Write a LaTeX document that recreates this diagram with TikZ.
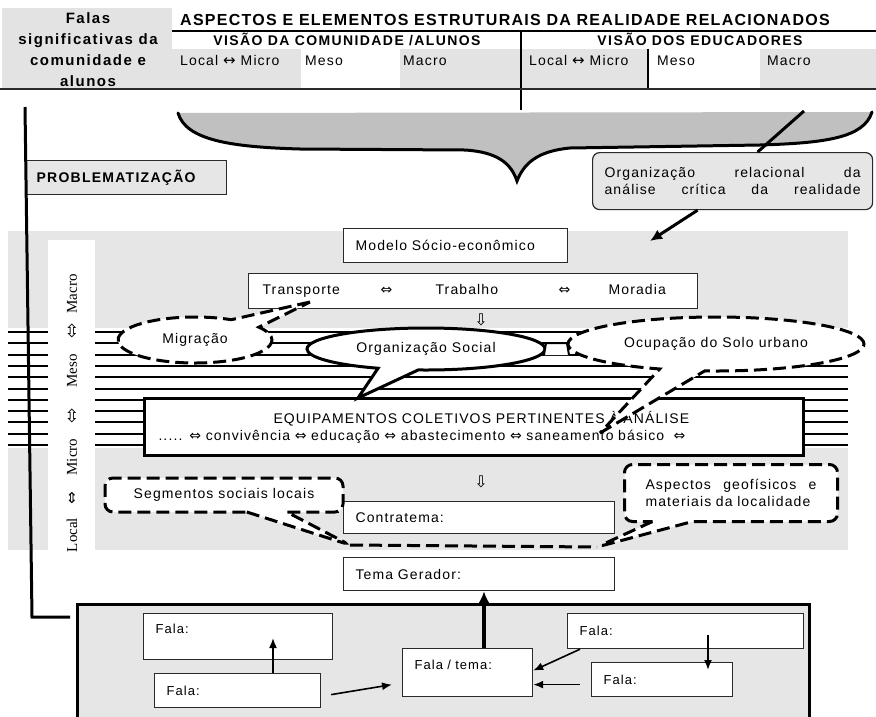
\documentclass[tikz,border=0pt]{standalone}
\usepackage{fontspec}
\setmainfont{Liberation Sans}[LetterSpace=8]
\newfontfamily\tms{Liberation Serif}
\newfontfamily\sym{DejaVu Sans}
\usetikzlibrary{shapes.callouts,arrows.meta,calc}
\definecolor{lg}{HTML}{E6E6E6}
\definecolor{hg}{HTML}{E3E3E3}
\definecolor{bg}{HTML}{C0C0C0}
\definecolor{ln}{HTML}{2A2A2A}
\newcommand\dblarr{{\sym\fontsize{14}{14}\selectfont ⇔}}
\tikzset{
  thinbox/.style={draw=ln, line width=1.2pt, fill=white, anchor=north west, inner xsep=12pt, inner ysep=0pt, align=left},
  thickbox/.style={draw=black, line width=3pt, fill=white, anchor=north west, inner xsep=14pt, inner ysep=0pt, align=left},
  dsh/.style={dash pattern=on 13pt off 6pt, line width=3pt},
  hln/.style={line width=2pt},
  arr/.style={-{Latex[length=10pt,width=8pt]}, line width=1.6pt},
  hdr/.style={anchor=base west, inner sep=0pt},
  vlab/.style={rotate=90, inner sep=0pt, font=\tms\fontsize{15}{17}\selectfont},
  fsmall/.style={font=\fontsize{13}{16}\selectfont}
}
\begin{document}
\begin{tikzpicture}[x=1pt,y=-1pt,font=\fontsize{14}{17}\selectfont]
\useasboundingbox (0,0) rectangle (876,716);
% ---------------- header
\fill[hg] (2,8) rectangle (172,88);
\fill[hg] (172,49) rectangle (301,88);
\fill[hg] (400,49) rectangle (521,88);
\fill[hg] (521,49) rectangle (648,88);
\fill[hg] (760,49) rectangle (876,88);
\draw[line width=1.5pt] (172,31) -- (876,31);
\draw[line width=1.3pt] (521,31) -- (521,110);
\draw[line width=1.3pt] (648,49) -- (648,89);
\draw[line width=2pt, draw=ln] (0,89) -- (876,89);
\node[align=center, inner sep=0pt, font=\bfseries\fontsize{15}{21}\selectfont\addfontfeatures{LetterSpace=10}] (falas) at (88,50) {Falas\\significativas da\\comunidade e\\alunos};
\node[hdr, font=\bfseries\fontsize{16}{19}\selectfont\addfontfeatures{LetterSpace=8}] (title) at (180,25) {ASPECTOS E ELEMENTOS ESTRUTURAIS DA REALIDADE RELACIONADOS};
\node[anchor=base, inner sep=0pt, font=\bfseries\fontsize{14}{17}\selectfont\addfontfeatures{LetterSpace=10}] (vca) at (347,45) {VISÃO DA COMUNIDADE /ALUNOS};
\node[anchor=base, inner sep=0pt, font=\bfseries\fontsize{14}{17}\selectfont\addfontfeatures{LetterSpace=10}] (vde) at (700,45) {VISÃO DOS EDUCADORES};
\node[hdr] (c1) at (180,65) {Local {\sym\fontsize{15}{15}\selectfont ↔} Micro};
\node[hdr] (c2) at (305,65) {Meso};
\node[hdr] (c3) at (403,65) {Macro};
\node[hdr] (c4) at (529,65) {Local {\sym\fontsize{15}{15}\selectfont ↔} Micro};
\node[hdr] (c5) at (657,65) {Meso};
\node[hdr] (c6) at (767,65) {Macro};
% ---------------- brace
\fill[bg] (178,113) .. controls (186,140) and (230,147) .. (300,149) -- (465,150) .. controls (497,152) and (511,163) .. (517,181) .. controls (524,163) and (538,151) .. (570,148) -- (760,145) .. controls (825,143) and (864,138) .. (872,112) -- cycle;
\draw[line width=3pt, line cap=round] (178,113) .. controls (186,140) and (230,147) .. (300,149) -- (465,150) .. controls (497,152) and (511,163) .. (517,181) .. controls (524,163) and (538,151) .. (570,148) -- (760,145) .. controls (825,143) and (864,138) .. (872,112);
% ---------------- problematizacao
\node[draw=ln, line width=1.2pt, fill=lg, anchor=north west, minimum width=200, minimum height=34, inner xsep=10pt, font=\bfseries\fontsize{14}{17}\selectfont\addfontfeatures{LetterSpace=9}, align=left, text width=180] (prob) at (26,160) {PROBLEMATIZAÇÃO};
% ---------------- callout relacional
\node[draw=ln, line width=1.2pt, fill=lg, rounded corners=7pt, anchor=north west, minimum height=57, inner xsep=12pt, text width=256, align=left] (rel) at (592,152) {\hbox to 256pt{Organização\hfill relacional\hfill da}\\\hbox to 256pt{análise\hfill crítica\hfill da\hfill realidade}};
\coordinate (bracept) at (804,111);
\draw[line width=3pt] (bracept) -- ([xshift=25pt]rel.north);
% ---------------- panels
\fill[lg] (8,231) rectangle (848,328);
\fill[lg] (8,448) rectangle (848,550);
\fill[white] (48,240) rectangle (95,550);
\foreach \i in {0,...,10} {
  \draw[hln] (8,332+\i*11.3) -- (48,332+\i*11.3);
  \draw[hln] (95,332+\i*11.3) -- (848,332+\i*11.3);
}
\coordinate (relend) at (650,241);
\draw[line width=3pt, -{Latex[length=12pt,width=11pt]}] ([xshift=-35pt]rel.south) -- (relend);
% vertical labels
\node[vlab] (vmac) at (72,294) {Macro};
\node[inner sep=0pt] (va1) at (72,331) {\sym\fontsize{18}{18}\selectfont ⇳};
\node[vlab] (vmes) at (72,371) {Meso};
\node[inner sep=0pt] (va2) at (72,416) {\sym\fontsize{18}{18}\selectfont ⇳};
\node[vlab] (vmic) at (72,457) {Micro};
\node[inner sep=0pt] (va3) at (72,498) {\sym\fontsize{15}{15}\selectfont ⇕};
\node[vlab] (vloc) at (72,535) {Local};
% left thick line
\coordinate (ltop) at (25,107);
\coordinate (lend) at (70,617);
\draw[line width=3pt] (ltop) -- (32,617) -- (lend);
% ---------------- boxes
\node[thinbox, text width=200, minimum height=34] (modelo) at (343,228) {Modelo Sócio-econômico};
\node[thinbox, inner xsep=14pt, text width=421, minimum height=35] (trans) at (248,273) {\makebox[118pt][l]{Transporte}\makebox[55pt][l]{\dblarr}\makebox[123pt][l]{Trabalho}\makebox[50pt][l]{\dblarr}Moradia};
\node[inner sep=0pt] (dn1) at (481,320) {\sym\fontsize{16}{16}\selectfont ⇩};
\node[thickbox, text width=631, minimum height=57] (equip) at (143,397) {\hspace*{115pt}EQUIPAMENTOS COLETIVOS PERTINENTES À ANÁLISE\\..... \dblarr{} convivência \dblarr{} educação \dblarr{} abastecimento \dblarr{} saneamento básico \ \dblarr};
\node[inner sep=0pt] (dn2) at (481,482) {\sym\fontsize{16}{16}\selectfont ⇩};
\node[thinbox, text width=247, minimum height=32] (contra) at (343,501) {Contratema:};
\node[thinbox, text width=247, minimum height=33] (tema) at (343,557) {Tema Gerador:};
% ---------------- callouts
\coordinate (migtip) at (310,302);
\coordinate (orgtip) at (358,398);
\coordinate (ocutip) at (600,433);
\coordinate (segtip) at (350,545);
\coordinate (asptip) at (597,547);
\node[ellipse callout, draw, dsh, fill=white, inner sep=0pt, minimum width=154, minimum height=46, callout absolute pointer={(migtip)}, callout pointer arc=28] (mig) at (195,340) {Migração};
\node[ellipse callout, draw, line width=3pt, fill=white, inner sep=0pt, minimum width=238, minimum height=42, callout absolute pointer={(orgtip)}, callout pointer arc=20] (org) at (426,349) {Organização Social};
\draw[line width=2pt, fill=white] (544,355) -- (546,343) -- (567,343) -- (569,355);
\node[ellipse callout, draw, dsh, fill=white, inner sep=0pt, minimum width=296, minimum height=54, callout absolute pointer={(ocutip)}, callout pointer arc=18] (ocu) at (716,344) {Ocupação do Solo urbano};
\node[rectangle callout, draw, dsh, fill=white, rounded corners=8pt, inner sep=0pt, minimum width=238, minimum height=34, callout absolute pointer={(segtip)}, callout pointer width=40pt] (seg) at (224,495) {Segmentos sociais locais};
\node[rectangle callout, draw, dsh, fill=white, rounded corners=8pt, inner xsep=21pt, inner ysep=0pt, minimum height=57, text width=171, align=left, callout absolute pointer={(asptip)}, callout pointer width=40pt] (asp) at (731,493) {\hbox to 171pt{Aspectos\hfill geofísicos\hfill e}\\\hbox to 171pt{materiais da localidade}};
\draw[dsh] (segtip) -- (asptip);
% ---------------- bottom box
\node[draw=black, line width=3pt, fill=lg, anchor=north west, minimum width=732, minimum height=140] (falabox) at (76,603) {};
\node[thinbox, fsmall, text width=165, minimum height=46] (f1) at (143,613) {Fala:\\\mbox{}};
\node[thinbox, fsmall, text width=142, minimum height=34] (f2) at (154,673) {Fala:};
\node[thinbox, fsmall, text width=106, minimum height=48] (ft) at (402,648) {Fala / tema:\\\mbox{}};
\node[thinbox, fsmall, text width=212, minimum height=35] (f3) at (567,613) {Fala:};
\node[thinbox, fsmall, text width=117, minimum height=34] (f4) at (591,662) {Fala:};
\draw[arr] (f2.north -| 273,0) -- (273,638);
\draw[arr] ([xshift=10pt,yshift=-4pt]f2.east) -- ([xshift=-10pt,yshift=-12pt]ft.west);
\draw[arr] ([xshift=13pt]f3.south west) -- ([yshift=2pt]ft.east);
\draw[arr] ([xshift=-11pt,yshift=-5pt]f4.west) -- ([yshift=-12pt]ft.east);
\draw[arr] (708,635) -- (f4.north -| 708,0) -- (708,670);
\draw[line width=4pt, -{Latex[length=12pt,width=11pt]}] (ft.north -| 484,0) -- (tema.south -| 484,0);
\end{tikzpicture}
\end{document}
